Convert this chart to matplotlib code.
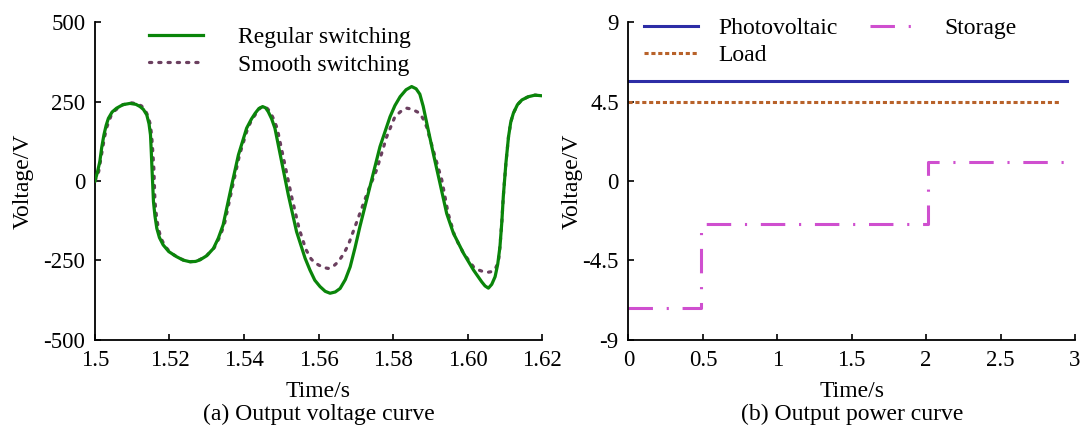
#!/usr/bin/env python

"""Output voltage curve and output power curve, side by side"""

import matplotlib
matplotlib.use("Agg")
from matplotlib import pyplot

# (a) output voltage
regular_t = [1.5000, 1.5006, 1.5013, 1.5018, 1.5024, 1.5030, 1.5036, 1.5046, 1.5058, 1.5075,
             1.5094, 1.5110, 1.5121, 1.5130, 1.5139, 1.5145, 1.5149, 1.5151, 1.5153, 1.5157,
             1.5161, 1.5166, 1.5173, 1.5183, 1.5198, 1.5219, 1.5237, 1.5255, 1.5270, 1.5282,
             1.5300, 1.5318, 1.5331, 1.5344, 1.5367, 1.5385, 1.5407, 1.5420, 1.5430, 1.5440,
             1.5450, 1.5458, 1.5465, 1.5474, 1.5483, 1.5501, 1.5519, 1.5541, 1.5564, 1.5577,
             1.5590, 1.5604, 1.5618, 1.5631, 1.5645, 1.5658, 1.5672, 1.5685, 1.5698, 1.5711,
             1.5738, 1.5765, 1.5792, 1.5805, 1.5819, 1.5835, 1.5850, 1.5862, 1.5872, 1.5881,
             1.5890, 1.5908, 1.5926, 1.5944, 1.5962, 1.5989, 1.6016, 1.6038, 1.6047, 1.6056,
             1.6065, 1.6074, 1.6081, 1.6087, 1.6092, 1.6096, 1.6103, 1.6110, 1.6116, 1.6123,
             1.6134, 1.6146, 1.6163, 1.6181, 1.6200]
regular_v = [0, 25, 61, 105, 145, 175, 197, 217, 229, 240,
             244, 241, 234, 225, 208, 180, 145, 95, 40, -65,
             -110, -149, -178, -201, -222, -238, -249, -254, -253, -248,
             -235, -212, -180, -138, -13, 82, 166, 195, 213, 228,
             234, 230, 218, 196, 166, 61, -44, -159, -243, -280,
             -312, -332, -347, -353, -349, -338, -310, -270, -210, -144,
             -18, 108, 202, 237, 265, 287, 297, 290, 273, 235,
             185, 87, -7, -102, -164, -227, -280, -317, -330, -337,
             -325, -301, -262, -207, -130, -49, 56, 139, 185, 213,
             240, 255, 265, 270, 268]

smooth_t = [1.5000, 1.5010, 1.5020, 1.5026, 1.5032, 1.5043, 1.5055, 1.5075, 1.5097, 1.5112,
            1.5125, 1.5135, 1.5142, 1.5148, 1.5152, 1.5155, 1.5158, 1.5161, 1.5165, 1.5170,
            1.5178, 1.5188, 1.5203, 1.5222, 1.5240, 1.5255, 1.5270, 1.5282, 1.5302, 1.5320,
            1.5334, 1.5347, 1.5370, 1.5388, 1.5410, 1.5422, 1.5433, 1.5443, 1.5453, 1.5461,
            1.5470, 1.5479, 1.5489, 1.5508, 1.5528, 1.5548, 1.5566, 1.5580, 1.5590, 1.5600,
            1.5613, 1.5626, 1.5640, 1.5653, 1.5667, 1.5680, 1.5711, 1.5734, 1.5756, 1.5783,
            1.5805, 1.5820, 1.5837, 1.5850, 1.5864, 1.5872, 1.5881, 1.5890, 1.5913, 1.5931,
            1.5948, 1.5966, 1.5989, 1.6016, 1.6030, 1.6042, 1.6055, 1.6065, 1.6075, 1.6083,
            1.6087, 1.6092, 1.6096, 1.6103, 1.6110, 1.6116, 1.6123, 1.6134, 1.6146, 1.6163,
            1.6181, 1.6200]
smooth_v = [0, 30, 100, 140, 170, 205, 223, 240, 246, 243,
            236, 222, 205, 180, 145, 95, 40, -65, -110, -149,
            -182, -205, -226, -240, -250, -254, -252, -247, -232, -210,
            -178, -138, -13, 82, 166, 195, 213, 229, 236, 230,
            218, 196, 166, 61, -50, -150, -215, -245, -257, -264,
            -272, -275, -268, -254, -230, -201, -102, -28, 35, 139,
            202, 218, 229, 226, 218, 213, 195, 171, 76, 3,
            -102, -175, -227, -270, -280, -285, -287, -285, -275, -254,
            -207, -130, -49, 56, 139, 185, 213, 240, 255, 265,
            270, 268]

voltage_xticks = [1.5, 1.52, 1.54, 1.56, 1.58, 1.60, 1.62]
voltage_xticklabels = ["1.5", "1.52", "1.54", "1.56", "1.58", "1.60", "1.62"]
voltage_yticks = [-500, -250, 0, 250, 500]

# (b) output power
pv_t = [0, 2.947]
pv_p = [5.65, 5.65]
load_t = [0, 2.907]
load_p = [4.45, 4.45]
storage_t = [0, 0.49, 2.01, 2.937]
storage_p = [-7.2, -2.45, 1.1, 1.1]

power_xticks = [0, 0.5, 1, 1.5, 2, 2.5, 3]
power_xticklabels = ["0", "0.5", "1", "1.5", "2", "2.5", "3"]
power_yticks = [-9, -4.5, 0, 4.5, 9]
power_yticklabels = ["-9", "-4.5", "0", "4.5", "9"]

TICK_FONT = 16.5
FONT = 17

pyplot.rcParams["font.family"] = ["Liberation Serif", "DejaVu Serif"]
pyplot.rcParams["font.size"] = FONT
pyplot.rcParams["axes.unicode_minus"] = False


def style_axes(ax):
    """open-box axes with inward ticks"""
    for side in ["top", "right"]:
        ax.spines[side].set_visible(False)
    for side in ["left", "bottom"]:
        ax.spines[side].set_linewidth(1.3)
    ax.tick_params(direction="in", length=4, width=1.2, pad=7, labelsize=TICK_FONT)


def draw_voltage(ax):
    smooth = ax.plot(smooth_t, smooth_v, color="#6b3f5f", lw=2.3, dashes=(0.7, 2.2),
                     dash_capstyle="round", zorder=2, label="Smooth switching")[0]
    regular = ax.plot(regular_t, regular_v, color="#0a850a", lw=2.3, zorder=3,
                      label="Regular switching")[0]
    ax.set_xlim(1.5, 1.62)
    ax.set_ylim(-500, 500)
    ax.set_xticks(voltage_xticks)
    ax.set_xticklabels(voltage_xticklabels)
    ax.set_yticks(voltage_yticks)
    ax.set_xlabel("Time/s", fontsize=FONT)
    ax.set_ylabel("Voltage/V", fontsize=FONT)
    ax.xaxis.set_label_coords(0.5, -0.13)
    ax.yaxis.set_label_coords(-0.136, 0.5)
    ax.legend([regular, smooth], ["Regular switching", "Smooth switching"],
              loc="upper left", bbox_to_anchor=(0.12, 0.985), frameon=False,
              borderpad=0, borderaxespad=0, handlelength=2.3, handletextpad=1.5,
              labelspacing=0.25, fontsize=FONT)
    ax.text(0.5, -0.2, "(a) Output voltage curve", transform=ax.transAxes,
            ha="center", va="top", fontsize=FONT)


def draw_power(ax):
    pv = ax.plot(pv_t, pv_p, color="#2d2da6", lw=2.2, label="Photovoltaic")[0]
    load = ax.plot(load_t, load_p, color="#b8622a", lw=2.2, dashes=(1.35, 0.9),
                   label="Load")[0]
    storage = ax.plot(storage_t, storage_p, color="#cf4fcf", lw=2.2, drawstyle="steps-post",
                      dashes=(8, 4.5, 0.7, 4.5), label="Storage")[0]
    ax.set_xlim(0, 3)
    ax.set_ylim(-9, 9)
    ax.set_xticks(power_xticks)
    ax.set_xticklabels(power_xticklabels)
    ax.set_yticks(power_yticks)
    ax.set_yticklabels(power_yticklabels)
    ax.set_xlabel("Time/s", fontsize=FONT)
    ax.set_ylabel("Voltage/V", fontsize=FONT)
    ax.xaxis.set_label_coords(0.5, -0.13)
    ax.yaxis.set_label_coords(-0.102, 0.5)
    ax.legend([pv, load, storage], ["Photovoltaic", "Load", "Storage"], ncol=2,
              loc="upper left", bbox_to_anchor=(0.035, 1.015), frameon=False,
              borderpad=0, borderaxespad=0, handlelength=2.3, handletextpad=0.85,
              columnspacing=1.35, labelspacing=0.25, fontsize=FONT)
    ax.text(0.5, -0.2, "(b) Output power curve", transform=ax.transAxes,
            ha="center", va="top", fontsize=FONT)


def draw_figure():
    fig = pyplot.figure(figsize=(10.83, 4.29), dpi=100)
    ax1 = fig.add_axes([0.0877, 0.2075, 0.4128, 0.7412])
    ax2 = fig.add_axes([0.5803, 0.2075, 0.4123, 0.7412])
    style_axes(ax1)
    style_axes(ax2)
    draw_voltage(ax1)
    draw_power(ax2)
    return fig


if __name__ == "__main__":
    fig = draw_figure()
    fig.savefig("out.png", dpi=100)
    pyplot.close()
